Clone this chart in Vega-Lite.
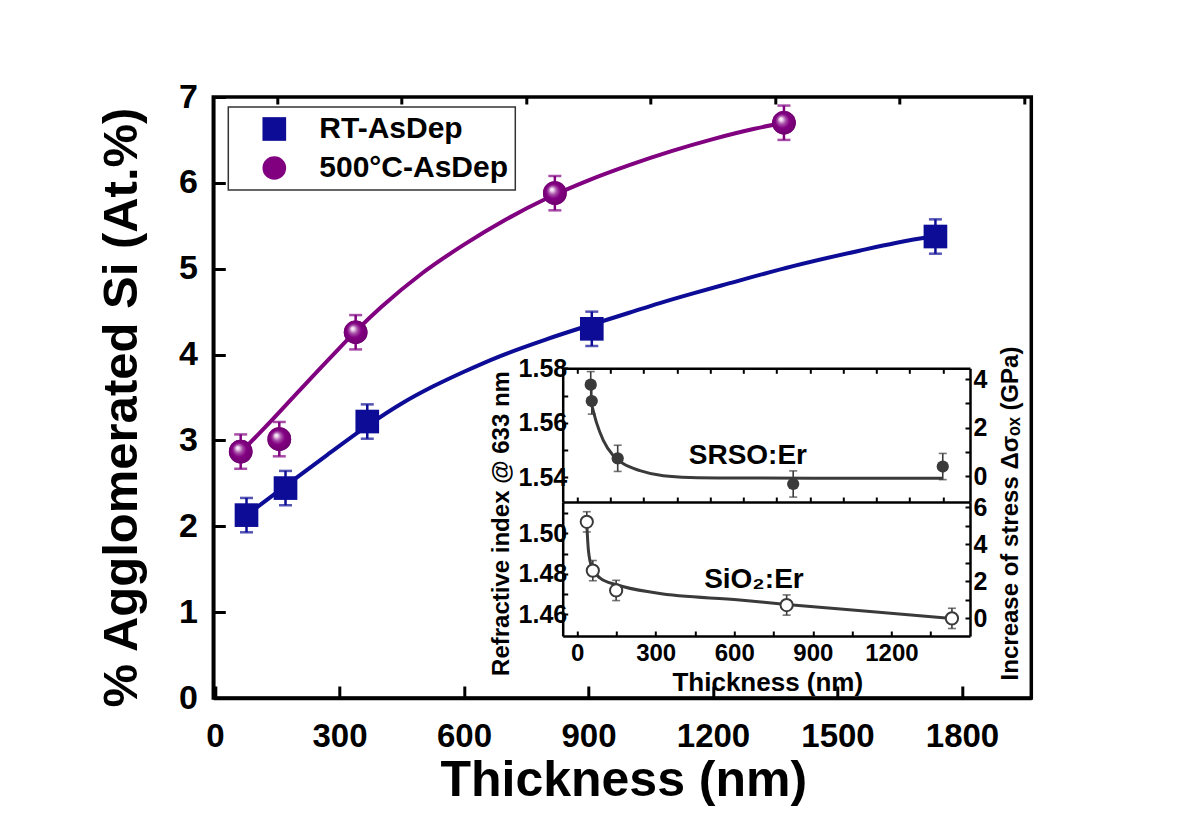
{
  "$schema": "https://vega.github.io/schema/vega-lite/v6.json",
  "width": 818,
  "height": 601,
  "autosize": {"type": "none"},
  "padding": {"left": 213.3, "top": 97, "right": 168.7, "bottom": 141},
  "background": "white",
  "config": {
    "font": "Liberation Sans",
    "view": {"stroke": "black", "strokeWidth": 3.5},
    "legend": {"strokeWidth": 1.5},
    "axis": {
      "grid": false,
      "labelFont": "Liberation Sans",
      "titleFont": "Liberation Sans",
      "labelFontWeight": "bold",
      "titleFontWeight": "bold",
      "labelColor": "black",
      "titleColor": "black",
      "tickColor": "black",
      "domainColor": "black",
      "labelFlush": false,
      "labelOverlap": false,
      "labelBound": false
    }
  },
  "datasets": {
    "main": [
      {"series": "RT-AsDep", "t": 76, "v": 2.13, "e": 0.2},
      {"series": "RT-AsDep", "t": 170, "v": 2.445, "e": 0.2},
      {"series": "RT-AsDep", "t": 367, "v": 3.22, "e": 0.2},
      {"series": "RT-AsDep", "t": 908, "v": 4.3, "e": 0.2},
      {"series": "RT-AsDep", "t": 1736, "v": 5.375, "e": 0.2},
      {"series": "500°C-AsDep", "t": 62, "v": 2.87, "e": 0.2},
      {"series": "500°C-AsDep", "t": 155, "v": 3.015, "e": 0.2},
      {"series": "500°C-AsDep", "t": 339, "v": 4.26, "e": 0.2},
      {"series": "500°C-AsDep", "t": 819, "v": 5.88, "e": 0.2},
      {"series": "500°C-AsDep", "t": 1371, "v": 6.7, "e": 0.2}
    ],
    "fit": [
      {"series": "RT-AsDep", "t": 76, "v": 2.13},
      {"series": "RT-AsDep", "t": 170, "v": 2.47},
      {"series": "RT-AsDep", "t": 270, "v": 2.83},
      {"series": "RT-AsDep", "t": 367, "v": 3.17},
      {"series": "RT-AsDep", "t": 450, "v": 3.43},
      {"series": "RT-AsDep", "t": 526, "v": 3.63},
      {"series": "RT-AsDep", "t": 600, "v": 3.8},
      {"series": "RT-AsDep", "t": 686, "v": 3.98},
      {"series": "RT-AsDep", "t": 800, "v": 4.18},
      {"series": "RT-AsDep", "t": 908, "v": 4.35},
      {"series": "RT-AsDep", "t": 1000, "v": 4.49},
      {"series": "RT-AsDep", "t": 1072, "v": 4.6},
      {"series": "RT-AsDep", "t": 1150, "v": 4.71},
      {"series": "RT-AsDep", "t": 1232, "v": 4.82},
      {"series": "RT-AsDep", "t": 1393, "v": 5.03},
      {"series": "RT-AsDep", "t": 1553, "v": 5.21},
      {"series": "RT-AsDep", "t": 1640, "v": 5.3},
      {"series": "RT-AsDep", "t": 1736, "v": 5.38},
      {"series": "500°C-AsDep", "t": 62, "v": 2.86},
      {"series": "500°C-AsDep", "t": 124, "v": 3.17},
      {"series": "500°C-AsDep", "t": 205, "v": 3.59},
      {"series": "500°C-AsDep", "t": 285, "v": 4.0},
      {"series": "500°C-AsDep", "t": 339, "v": 4.27},
      {"series": "500°C-AsDep", "t": 400, "v": 4.55},
      {"series": "500°C-AsDep", "t": 500, "v": 4.95},
      {"series": "500°C-AsDep", "t": 600, "v": 5.28},
      {"series": "500°C-AsDep", "t": 700, "v": 5.57},
      {"series": "500°C-AsDep", "t": 800, "v": 5.82},
      {"series": "500°C-AsDep", "t": 900, "v": 6.03},
      {"series": "500°C-AsDep", "t": 1000, "v": 6.21},
      {"series": "500°C-AsDep", "t": 1100, "v": 6.37},
      {"series": "500°C-AsDep", "t": 1200, "v": 6.51},
      {"series": "500°C-AsDep", "t": 1300, "v": 6.63},
      {"series": "500°C-AsDep", "t": 1371, "v": 6.7}
    ],
    "inset": [
      {"film": "SRSO:Er", "t": 52, "n": 1.574, "e": 0.0048},
      {"film": "SRSO:Er", "t": 56, "n": 1.568, "e": 0.0048},
      {"film": "SRSO:Er", "t": 155, "n": 1.547, "e": 0.0048},
      {"film": "SRSO:Er", "t": 825, "n": 1.5376, "e": 0.0048},
      {"film": "SRSO:Er", "t": 1396, "n": 1.544, "e": 0.0048},
      {"film": "SiO2:Er", "t": 37, "n": 1.5057, "e": 0.005},
      {"film": "SiO2:Er", "t": 60, "n": 1.4816, "e": 0.005},
      {"film": "SiO2:Er", "t": 149, "n": 1.4718, "e": 0.005},
      {"film": "SiO2:Er", "t": 800, "n": 1.4646, "e": 0.005},
      {"film": "SiO2:Er", "t": 1431, "n": 1.458, "e": 0.005}
    ],
    "insetfit": [
      {"film": "SRSO:Er", "t": 56, "n": 1.5665},
      {"film": "SRSO:Er", "t": 75, "n": 1.5598},
      {"film": "SRSO:Er", "t": 100, "n": 1.5536},
      {"film": "SRSO:Er", "t": 138, "n": 1.548},
      {"film": "SRSO:Er", "t": 177, "n": 1.545},
      {"film": "SRSO:Er", "t": 240, "n": 1.5425},
      {"film": "SRSO:Er", "t": 329, "n": 1.5406},
      {"film": "SRSO:Er", "t": 431, "n": 1.54},
      {"film": "SRSO:Er", "t": 621, "n": 1.5398},
      {"film": "SRSO:Er", "t": 900, "n": 1.5397},
      {"film": "SRSO:Er", "t": 1396, "n": 1.5397},
      {"film": "SiO2:Er", "t": 37, "n": 1.5045},
      {"film": "SiO2:Er", "t": 43, "n": 1.4918},
      {"film": "SiO2:Er", "t": 56, "n": 1.4833},
      {"film": "SiO2:Er", "t": 88, "n": 1.4779},
      {"film": "SiO2:Er", "t": 151, "n": 1.4746},
      {"film": "SiO2:Er", "t": 304, "n": 1.4705},
      {"film": "SiO2:Er", "t": 621, "n": 1.4671},
      {"film": "SiO2:Er", "t": 800, "n": 1.4649},
      {"film": "SiO2:Er", "t": 1130, "n": 1.4613},
      {"film": "SiO2:Er", "t": 1431, "n": 1.458}
    ],
    "insetlabels": [
      {"film": "SRSO:Er", "t": 652, "n": 1.5451, "label": "SRSO:Er"},
      {"film": "SiO2:Er", "t": 675, "n": 1.4731, "label": "SiO₂:Er"}
    ]
  },
  "resolve": {"scale": {"x": "independent", "y": "independent"}},
  "layer": [
    {
      "data": {"name": "main"},
      "encoding": {
        "x": {
          "field": "t", "type": "quantitative",
          "scale": {"domain": [-4, 1967], "nice": false, "zero": false},
          "axis": {
            "values": [0, 300, 600, 900, 1200, 1500, 1800],
            "format": "d",
            "tickSize": -12, "tickWidth": 3, "domainWidth": 3.5,
            "labelFontSize": 33, "labelPadding": 34,
            "title": "Thickness (nm)",
            "titleFontSize": 50,
            "titleX": 410, "titleY": 97, "titleBaseline": "alphabetic"
          }
        },
        "y": {
          "field": "v", "type": "quantitative",
          "scale": {"domain": [0, 7], "nice": false, "zero": false},
          "axis": {
            "values": [0, 1, 2, 3, 4, 5, 6, 7],
            "tickSize": -12, "tickWidth": 3, "domainWidth": 3.5,
            "labelFontSize": 34, "labelPadding": 28,
            "title": "% Agglomerated Si (At.%)",
            "titleFontSize": 49, "titleAngle": 270, "titleAlign": "center", "titleBaseline": "middle",
            "titleX": -92, "titleY": 310
          }
        }
      },
      "layer": [
        {
          "transform": [{"filter": "datum.series === 'RT-AsDep'"}],
          "mark": {"type": "errorbar", "color": "#0c0c96", "thickness": 2.5, "ticks": {"size": 13, "thickness": 2.5}},
          "encoding": {"yError": {"field": "e"}}
        },
        {
          "transform": [{"filter": "datum.series !== 'RT-AsDep'"}],
          "mark": {"type": "errorbar", "color": "#800080", "thickness": 2.5, "ticks": {"size": 13, "thickness": 2.5}},
          "encoding": {"yError": {"field": "e"}}
        },
        {
          "data": {"name": "fit"},
          "transform": [{"filter": "datum.series === 'RT-AsDep'"}],
          "mark": {"type": "line", "color": "#0c0c96", "strokeWidth": 4, "interpolate": "monotone"},
          "encoding": {}
        },
        {
          "data": {"name": "fit"},
          "transform": [{"filter": "datum.series !== 'RT-AsDep'"}],
          "mark": {"type": "line", "color": "#800080", "strokeWidth": 4, "interpolate": "monotone"},
          "encoding": {}
        },
        {
          "mark": {"type": "point", "filled": true, "size": 560, "opacity": 1, "strokeWidth": 0},
          "encoding": {
            "color": {
              "field": "series", "type": "nominal",
              "scale": {"domain": ["RT-AsDep", "500°C-AsDep"], "range": ["#0c0c96", "#800080"]},
              "legend": {"orient": "none", "legendX": 15, "legendY": 10, "title": null, "padding": 7,
                "strokeColor": "#333333", "fillColor": "white", "labelLimit": 400,
                "labelFontSize": 30, "labelFont": "Liberation Sans", "labelFontWeight": "bold", "labelColor": "black",
                "symbolSize": 560, "rowPadding": 9, "symbolOffset": 24, "labelOffset": 30, "symbolStrokeWidth": 0}
            },
            "shape": {
              "field": "series", "type": "nominal",
              "scale": {"domain": ["RT-AsDep", "500°C-AsDep"], "range": ["square", "circle"]},
              "legend": {"orient": "none", "legendX": 15, "legendY": 10, "title": null, "padding": 7,
                "strokeColor": "#333333", "fillColor": "white", "labelLimit": 400,
                "labelFontSize": 30, "labelFont": "Liberation Sans", "labelFontWeight": "bold", "labelColor": "black",
                "symbolSize": 560, "rowPadding": 9, "symbolOffset": 24, "labelOffset": 30, "symbolStrokeWidth": 0}
            }
          }
        },
        {
          "transform": [{"filter": "datum.series !== 'RT-AsDep'"}],
          "mark": {
            "type": "point", "shape": "circle", "filled": true, "size": 560, "opacity": 1, "strokeWidth": 0,
            "fill": {"gradient": "radial", "x1": 0.36, "y1": 0.33, "r1": 0, "x2": 0.5, "y2": 0.5, "r2": 0.55,
              "stops": [
                {"offset": 0, "color": "#ffffff"},
                {"offset": 0.12, "color": "#f0d8f0"},
                {"offset": 0.32, "color": "#a850a8"},
                {"offset": 0.55, "color": "#830083"},
                {"offset": 1, "color": "#6c006c"}
              ]}
          },
          "encoding": {}
        }
      ]
    },
    {
      "data": {"name": "main"},
      "mark": {"type": "point", "opacity": 0},
      "encoding": {
        "x": {
          "field": "t", "type": "quantitative",
          "scale": {"domain": [-4, 1967], "nice": false, "zero": false},
          "axis": {"values": [150, 450, 750, 1050, 1350, 1650, 1950], "labels": false, "domain": false,
            "tickSize": -7, "tickWidth": 3, "title": null}
        },
        "y": {
          "field": "v", "type": "quantitative",
          "scale": {"domain": [0, 7], "nice": false, "zero": false},
          "axis": null
        }
      }
    },
    {
      "encoding": {
        "x": {
          "field": "t", "type": "quantitative",
          "scale": {"domain": [-55, 1500], "range": [349.4, 756.7], "nice": false, "zero": false},
          "axis": {"orient": "top", "offset": -271.3,
            "values": [0, 127, 254, 381, 508, 635, 762, 889, 1016, 1143, 1270, 1397],
            "labels": false, "tickSize": -5, "tickWidth": 2, "domainWidth": 2.5, "title": null}
        },
        "y": {
          "field": "n", "type": "quantitative",
          "scale": {"domain": [1.531, 1.58], "range": [405, 271.3], "nice": false, "zero": false},
          "axis": {"orient": "left", "offset": -349.4,
            "values": [1.54, 1.55, 1.56, 1.57, 1.58],
            "labelExpr": "round(datum.value*100) % 2 === 0 ? format(datum.value, '.2f') : ''",
            "tickSize": -5, "tickWidth": 2, "domainWidth": 2.5,
            "labelFontSize": 25, "labelPadding": 1, "title": null}
        }
      },
      "layer": [
        {
          "data": {"name": "inset"},
          "transform": [{"filter": "datum.film === 'SRSO:Er'"}],
          "mark": {"type": "errorbar", "color": "#3a3a3a", "thickness": 1.6, "ticks": {"size": 8, "thickness": 1.6}},
          "encoding": {"yError": {"field": "e"}}
        },
        {
          "data": {"name": "insetfit"},
          "transform": [{"filter": "datum.film === 'SRSO:Er'"}],
          "mark": {"type": "line", "color": "#3a3a3a", "strokeWidth": 3, "interpolate": "monotone"},
          "encoding": {}
        },
        {
          "data": {"name": "inset"},
          "transform": [{"filter": "datum.film === 'SRSO:Er'"}],
          "mark": {"type": "point", "shape": "circle", "filled": true, "color": "#3a3a3a", "size": 150, "opacity": 1},
          "encoding": {}
        },
        {
          "data": {"name": "insetlabels"},
          "transform": [{"filter": "datum.film === 'SRSO:Er'"}],
          "mark": {"type": "text", "font": "Liberation Sans", "fontWeight": "bold", "fontSize": 28, "align": "center", "baseline": "alphabetic", "color": "black"},
          "encoding": {"text": {"field": "label"}}
        }
      ]
    },
    {
      "data": {"name": "inset"},
      "transform": [{"filter": "datum.film === 'SRSO:Er'"}],
      "mark": {"type": "point", "opacity": 0},
      "encoding": {
        "x": {
          "field": "t", "type": "quantitative",
          "scale": {"domain": [-55, 1500], "range": [349.4, 756.7], "nice": false, "zero": false},
          "axis": {"orient": "bottom", "offset": -196,
            "values": [0, 127, 254, 381, 508, 635, 762, 889, 1016, 1143, 1270, 1397],
            "labels": false, "tickSize": -5, "tickWidth": 2, "domainWidth": 2.5, "title": null}
        },
        "y": {
          "field": "n", "type": "quantitative",
          "scale": {"domain": [1.531, 1.58], "range": [405, 271.3], "nice": false, "zero": false},
          "axis": null
        }
      }
    },
    {
      "data": {"name": "inset"},
      "transform": [{"filter": "datum.film === 'SRSO:Er'"}],
      "mark": {"type": "point", "opacity": 0},
      "encoding": {
        "x": {
          "field": "t", "type": "quantitative",
          "scale": {"domain": [-55, 1500], "range": [349.4, 756.7], "nice": false, "zero": false},
          "axis": null
        },
        "y": {
          "field": "n", "type": "quantitative",
          "scale": {"domain": [-1.07, 4.45], "range": [405, 271.3], "nice": false, "zero": false},
          "axis": {"orient": "right", "offset": -61.3,
            "values": [0, 1, 2, 3, 4],
            "labelExpr": "datum.value % 2 === 0 ? datum.label : ''",
            "tickSize": -5, "tickWidth": 2, "domainWidth": 2.5,
            "labelFontSize": 25, "labelPadding": 8, "labelAlign": "left", "title": null}
        }
      }
    },
    {
      "encoding": {
        "x": {
          "field": "t", "type": "quantitative",
          "scale": {"domain": [-55, 1500], "range": [349.4, 756.7], "nice": false, "zero": false},
          "axis": {"orient": "bottom", "offset": -62,
            "values": [0, 150, 300, 450, 600, 750, 900, 1050, 1200, 1350],
            "format": "d",
            "labelExpr": "datum.value % 300 === 0 ? datum.label : ''",
            "tickSize": -5, "tickWidth": 2, "domainWidth": 2.5,
            "labelFontSize": 24, "labelPadding": 10,
            "title": "Thickness (nm)", "titleFontSize": 26,
            "titleX": 554, "titleY": 54, "titleBaseline": "alphabetic"}
        },
        "y": {
          "field": "n", "type": "quantitative",
          "scale": {"domain": [1.4493, 1.5155], "range": [539, 405], "nice": false, "zero": false},
          "axis": {"orient": "left", "offset": -349.4,
            "values": [1.46, 1.47, 1.48, 1.49, 1.5, 1.51],
            "labelExpr": "round(datum.value*100) % 2 === 0 ? format(datum.value, '.2f') : ''",
            "tickSize": -5, "tickWidth": 2, "domainWidth": 2.5,
            "labelFontSize": 25, "labelPadding": 1,
            "title": "Refractive index @ 633 nm", "titleFontSize": 24,
            "titleAngle": 270, "titleAlign": "center", "titleBaseline": "middle",
            "titleX": -61, "titleY": 426}
        }
      },
      "layer": [
        {
          "data": {"name": "inset"},
          "transform": [{"filter": "datum.film === 'SiO2:Er'"}],
          "mark": {"type": "errorbar", "color": "#3a3a3a", "thickness": 1.6, "ticks": {"size": 8, "thickness": 1.6}},
          "encoding": {"yError": {"field": "e"}}
        },
        {
          "data": {"name": "insetfit"},
          "transform": [{"filter": "datum.film === 'SiO2:Er'"}],
          "mark": {"type": "line", "color": "#3a3a3a", "strokeWidth": 3, "interpolate": "monotone"},
          "encoding": {}
        },
        {
          "data": {"name": "inset"},
          "transform": [{"filter": "datum.film === 'SiO2:Er'"}],
          "mark": {"type": "point", "shape": "circle", "filled": true, "fill": "white", "stroke": "#3a3a3a", "strokeWidth": 2, "size": 150, "opacity": 1},
          "encoding": {}
        },
        {
          "data": {"name": "insetlabels"},
          "transform": [{"filter": "datum.film === 'SiO2:Er'"}],
          "mark": {"type": "text", "font": "Liberation Sans", "fontWeight": "bold", "fontSize": 28, "align": "center", "baseline": "alphabetic", "color": "black"},
          "encoding": {"text": {"field": "label"}}
        }
      ]
    },
    {
      "data": {"name": "inset"},
      "transform": [{"filter": "datum.film === 'SiO2:Er'"}],
      "mark": {"type": "point", "opacity": 0},
      "encoding": {
        "x": {
          "field": "t", "type": "quantitative",
          "scale": {"domain": [-55, 1500], "range": [349.4, 756.7], "nice": false, "zero": false},
          "axis": null
        },
        "y": {
          "field": "n", "type": "quantitative",
          "scale": {"domain": [-0.96, 6.29], "range": [539, 405], "nice": false, "zero": false},
          "axis": {"orient": "right", "offset": -61.3,
            "values": [0, 1, 2, 3, 4, 5, 6],
            "labelExpr": "datum.value % 2 === 0 ? datum.label : ''",
            "tickSize": -5, "tickWidth": 2, "domainWidth": 2.5,
            "labelFontSize": 25, "labelPadding": 8, "labelAlign": "left",
            "title": "Increase of stress Δσₒₓ (GPa)", "titleFontSize": 24,
            "titleAngle": 270, "titleAlign": "center", "titleBaseline": "middle",
            "titleX": 40, "titleY": 416}
        }
      }
    }
  ]
}
